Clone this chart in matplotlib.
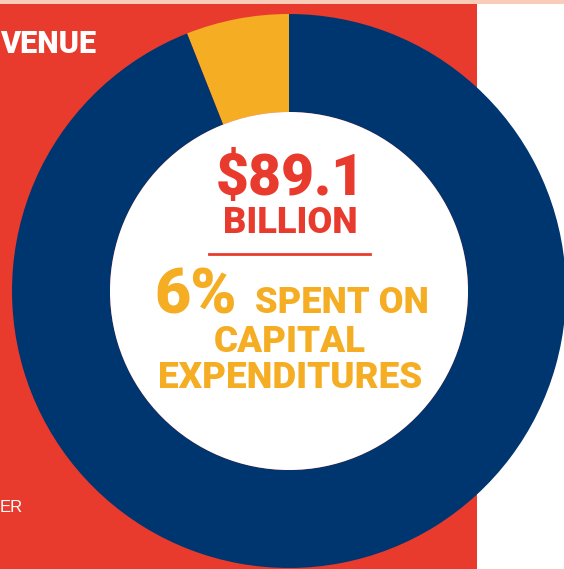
import matplotlib
matplotlib.use("Agg")
import matplotlib.pyplot as plt
from matplotlib.patches import Rectangle

# data
shares = [6, 94]
share_names = ["Capital expenditures", "Other spending"]
share_colors = ["#F5AD23", "#003670"]
total_label = "$89.1"
total_unit = "BILLION"
pct_label = "6%"
pct_lines = ["SPENT ON", "CAPITAL", "EXPENDITURES"]

RED = "#E93B2D"
YELLOW = "#F5AD23"
W, H = 564, 569

fig = plt.figure(figsize=(W / 100, H / 100), dpi=100)
ax = fig.add_axes([0, 0, 1, 1])

# background panels
ax.add_patch(Rectangle((0, 565), W, 4, color="#F9CBB9", lw=0, zorder=0))
ax.add_patch(Rectangle((0, 0), 477, 565, color=RED, lw=0, zorder=0))

cx, cy, r_out, r_in = 289, 278, 277, 179
ax.pie(shares, colors=share_colors, startangle=90, counterclock=True,
       center=(cx, cy), radius=r_out, frame=True,
       wedgeprops=dict(width=r_out - r_in, linewidth=0))
ax.add_patch(plt.Circle((cx, cy), r_in, color="white", lw=0, zorder=3))
ax.set_xlim(0, W)
ax.set_ylim(0, H)
ax.set_aspect("equal")
ax.axis("off")

fam = ["Roboto", "Liberation Sans", "DejaVu Sans"]
hv = 900
ax.text(290, 374, total_label, color=RED, fontsize=41, fontweight=hv,
        family=fam, ha="center", va="baseline", zorder=5)
ax.text(290, 336, total_unit, color=RED, fontsize=26, fontweight=hv,
        family=fam, ha="center", va="baseline", zorder=5)
ax.plot([209, 370], [315, 315], color=RED, lw=2, zorder=5)

ax.text(154, 256, pct_label, color=YELLOW, fontsize=45, fontweight=hv,
        family=fam, ha="left", va="baseline", zorder=5)
ax.text(255, 256, pct_lines[0], color=YELLOW, fontsize=26, fontweight=hv,
        family=fam, ha="left", va="baseline", zorder=5)
ax.text(290, 217, pct_lines[1], color=YELLOW, fontsize=26.5, fontweight=hv,
        family=fam, ha="center", va="baseline", zorder=5)
ax.text(290, 181, pct_lines[2], color=YELLOW, fontsize=26.5, fontweight=hv,
        family=fam, ha="center", va="baseline", zorder=5)

# visible parts of the neighbouring panel's labels
ax.text(0, 516, "VENUE", color="white", fontsize=22, fontweight=hv,
        family=fam, ha="left", va="baseline", zorder=1)
ax.text(0, 57, "ER", color="white", fontsize=12,
        family=["Liberation Sans", "DejaVu Sans"], ha="left", va="baseline", zorder=1)

fig.savefig("out.png", dpi=100, facecolor="white")
